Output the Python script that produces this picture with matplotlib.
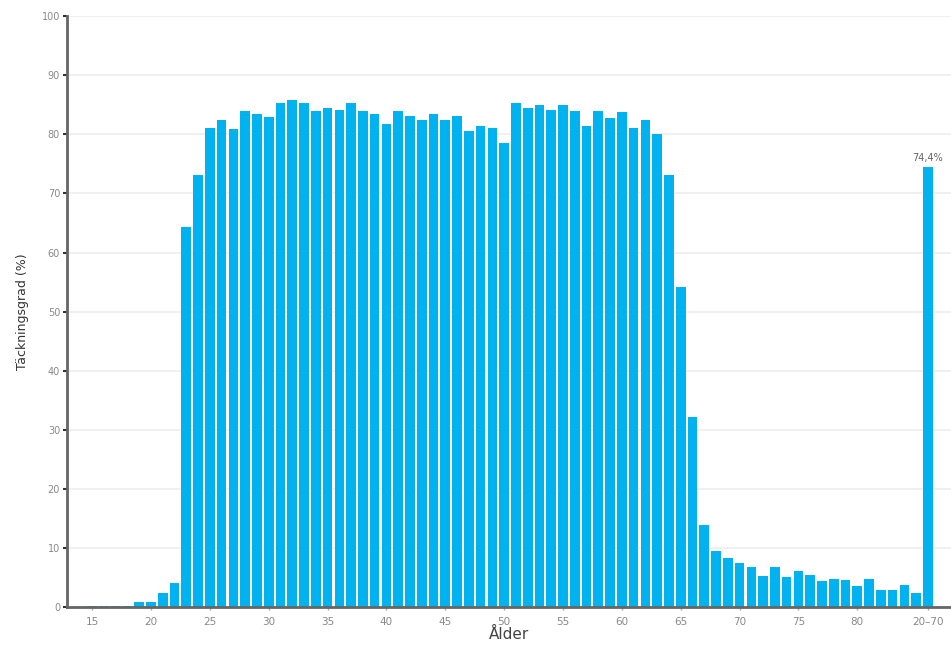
import matplotlib
matplotlib.use("Agg")
import matplotlib.pyplot as plt

ages = list(range(15, 86))
values = [
    0.1, 0.1, 0.1, 0.1,            # 15-18
    0.9, 0.9, 2.4, 4.0,            # 19-22
    64.3, 73.2, 81.1, 82.4, 80.9, 83.9, 83.5, 83.0, 85.3, 85.9,  # 23-32
    85.3, 83.9, 84.5, 84.1, 85.3, 83.9, 83.5, 81.8, 83.9, 83.1,  # 33-42
    82.4, 83.5, 82.4, 83.1, 80.5, 81.4, 81.0, 78.6, 85.3, 84.4,  # 43-52
    84.9, 84.2, 84.9, 83.9, 81.4, 83.9, 82.7, 83.8, 81.0, 82.4,  # 53-62
    80.0, 73.1, 54.2, 32.2, 13.8, 9.4, 8.3, 7.4, 6.8, 5.3,        # 63-72
    6.8, 5.0, 6.1, 5.4, 4.4, 4.7, 4.6, 3.6, 4.7, 2.8,              # 73-82
    2.8, 3.7, 2.4,                                                 # 83-85
]
total_label = "20–70"
total_value = 74.4
total_text = "74,4%"

xtick_ages = [15, 20, 25, 30, 35, 40, 45, 50, 55, 60, 65, 70, 75, 80]

fig = plt.figure(figsize=(9.51, 6.48), dpi=100)
ax = fig.add_axes([0.0705, 0.0633, 0.9295, 0.9117])

color = "#00b2f0"
ax.bar(ages, values, width=0.82, color=color, zorder=3)
total_pos = ages[-1] + 1
ax.bar([total_pos], [total_value], width=0.82, color=color, zorder=3)
ax.text(total_pos, total_value + 0.8, total_text, ha="center", va="bottom",
        fontsize=7, color="#666666")

ax.set_xlim(12.87, 87.96)
ax.set_ylim(0, 100)
ax.set_yticks(range(0, 101, 10))
ax.set_xticks(xtick_ages + [total_pos])
ax.set_xticklabels([str(a) for a in xtick_ages] + [total_label])

ax.grid(axis="y", color="#eeeeee", linewidth=1.2, zorder=0)
ax.set_axisbelow(True)

for s in ["top", "right"]:
    ax.spines[s].set_visible(False)
ax.spines["left"].set_color("#666666")
ax.spines["left"].set_linewidth(2)
ax.spines["bottom"].set_color("#666666")
ax.spines["bottom"].set_linewidth(2)
ax.spines["bottom"].set_zorder(4)

ax.tick_params(axis="y", colors="#333333", labelcolor="#888888", labelsize=7,
               length=3, width=1.5, pad=2)
ax.tick_params(axis="x", colors="#aaaaaa", labelcolor="#888888", labelsize=7.5,
               length=2, width=1, pad=5)

ax.set_ylabel("Täckningsgrad (%)", fontsize=9, color="#333333", labelpad=9)
ax.set_xlabel("Ålder", fontsize=11, color="#444444", labelpad=0)

fig.savefig("out.png", dpi=100)
